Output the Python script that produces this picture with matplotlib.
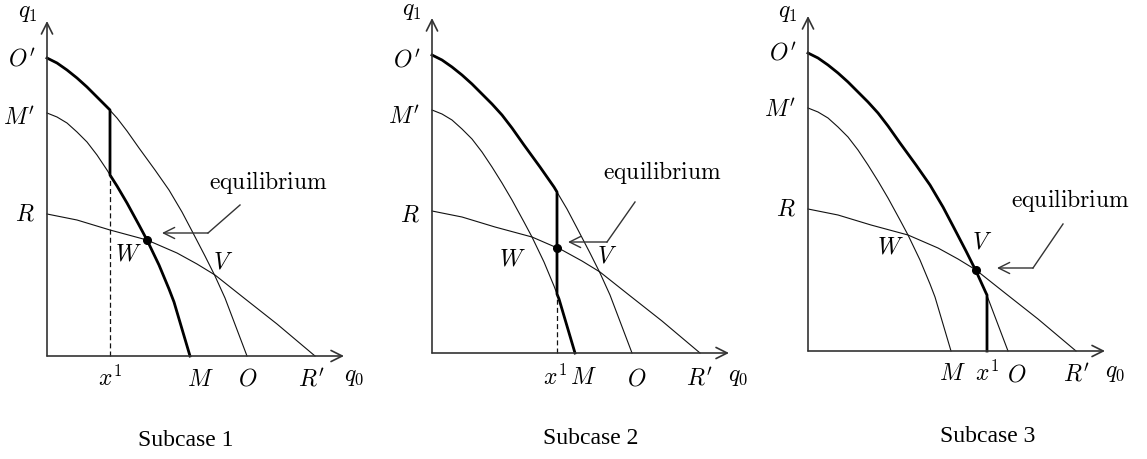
import matplotlib
matplotlib.use('Agg')
import matplotlib.pyplot as plt

plt.rcParams['mathtext.fontset'] = 'cm'
plt.rcParams['font.family'] = ['Liberation Serif', 'DejaVu Serif']

# Curves (same three curves in every subcase)
o_x = [0, 10, 20, 30, 40, 50, 60, 70, 80, 92, 108, 122, 135, 145, 158, 168, 178, 200]
o_y = [298, 293, 286, 278, 269, 259, 249, 238, 225, 208, 186, 166, 144, 125, 100, 80, 58, 0]
m_x = [0, 10, 20, 30, 40, 50, 60, 70, 80, 92, 100, 112, 122, 127, 143]
m_y = [243, 239, 233, 224, 214, 201, 186, 170, 153, 131, 116, 91, 67, 54, 0]
r_x = [0, 30, 63, 100, 130, 150, 168, 197, 230, 268]
r_y = [142, 136, 126, 116, 103, 92, 81, 58, 32, 0]

# Subcase specific values
titles = ['Subcase 1', 'Subcase 2', 'Subcase 3']
x1 = [63, 125, 179]
o_at_x1 = [246, 161, 56]
m_at_x1 = [181, 59, 0]
dashed = [True, True, False]
eq_point = [(100, 116), (125, 105), (168, 81)]

# Layout (pixel positions of each panel's origin, label positions)
ox = [47, 432, 808]
oy = [356, 353, 351]
lab = [
    {'q1': (-19, 342), "O'": 296, "M'": 238, 'R': 141, 'x1': (63, -22), 'M': (153, -24),
     'O': (201, -24), "R'": (265, -24), 'q0': (307, -21), 'W': (81, 101), 'V': (176, 93),
     'eq': (221, 173), 'arr': [(193, 151), (161, 123), (115, 123)], 'title': (139, -85)},
    {'q1': (-20, 341), "O'": 292, "M'": 236, 'R': 137, 'x1': (123, -24), 'M': (151, -26),
     'O': (205, -26), "R'": (268, -26), 'q0': (306, -24), 'W': (80, 93), 'V': (175, 96),
     'eq': (230, 180), 'arr': [(203, 151), (175, 111), (136, 111)], 'title': (159, -86)},
    {'q1': (-20, 338), "O'": 297, "M'": 241, 'R': 141, 'x1': (179, -22), 'M': (144, -24),
     'O': (209, -24), "R'": (269, -24), 'q0': (307, -22), 'W': (82, 103), 'V': (174, 108),
     'eq': (262, 151), 'arr': [(255, 127), (225, 83), (189, 83)], 'title': (180, -86)},
]

fig = plt.figure(figsize=(11.47, 4.59), dpi=100)
ink = '#111111'
fs = 17

for i in range(3):
    ax = fig.add_axes([(ox[i] - 47) / 1147, 0, 360 / 1147, 1])
    ax.set_xlim(-47, 313)
    ax.set_ylim(oy[i] - 459, oy[i])
    ax.axis('off')
    L = lab[i]

    # axes with open arrow heads
    ax.annotate('', xy=(297, 0), xytext=(0, 0),
                arrowprops=dict(arrowstyle='->', lw=1.2, color='#333333', mutation_scale=20, shrinkA=0, shrinkB=0))
    ax.annotate('', xy=(0, 335), xytext=(0, 0),
                arrowprops=dict(arrowstyle='->', lw=1.2, color='#333333', mutation_scale=20, shrinkA=0, shrinkB=0))

    # thin curves
    ax.plot(o_x, o_y, color=ink, lw=0.8)
    ax.plot(m_x, m_y, color=ink, lw=0.8)
    ax.plot(r_x, r_y, color=ink, lw=0.8)

    # thick path: O'O curve up to x1, jump down, then along M'M
    tx = [x for x in o_x if x < x1[i]] + [x1[i], x1[i]] + [x for x in m_x if x > x1[i]]
    ty = [y for x, y in zip(o_x, o_y) if x < x1[i]] + [o_at_x1[i], m_at_x1[i]] + \
         [y for x, y in zip(m_x, m_y) if x > x1[i]]
    ax.plot(tx, ty, color='black', lw=2.0, solid_joinstyle='round')

    if dashed[i]:
        ax.plot([x1[i], x1[i]], [0, m_at_x1[i]], color=ink, lw=0.9, dashes=(4, 2.5))

    ax.plot(*eq_point[i], 'o', color='black', ms=5.5)

    # labels
    ax.text(*L['q1'], r'$q_1$', fontsize=fs, ha='center', va='center')
    ax.text(-12, L["O'"], r"$O'$", fontsize=fs, ha='right', va='center')
    ax.text(-12, L["M'"], r"$M'$", fontsize=fs, ha='right', va='center')
    ax.text(-12, L['R'], r'$R$', fontsize=fs, ha='right', va='center')
    ax.text(*L['x1'], r'$x^1$', fontsize=fs, ha='center', va='center')
    ax.text(*L['M'], r'$M$', fontsize=fs, ha='center', va='center')
    ax.text(*L['O'], r'$O$', fontsize=fs, ha='center', va='center')
    ax.text(*L["R'"], r"$R'$", fontsize=fs, ha='center', va='center')
    ax.text(*L['q0'], r'$q_0$', fontsize=fs, ha='center', va='center')
    ax.text(*L['W'], r'$W$', fontsize=fs, ha='center', va='center')
    ax.text(*L['V'], r'$V$', fontsize=fs, ha='center', va='center')
    ax.text(*L['eq'], r'$\mathrm{equilibrium}$', fontsize=fs, ha='center', va='center')

    # pointer to the equilibrium
    a, b, c = L['arr']
    ax.plot([a[0], b[0]], [a[1], b[1]], color='#333333', lw=1.0)
    ax.annotate('', xy=c, xytext=b,
                arrowprops=dict(arrowstyle='->', lw=1.0, color='#333333', mutation_scale=20, shrinkA=0, shrinkB=0))

    ax.text(*L['title'], titles[i], fontsize=17, ha='center', va='center')

fig.savefig('out.png', dpi=100)
